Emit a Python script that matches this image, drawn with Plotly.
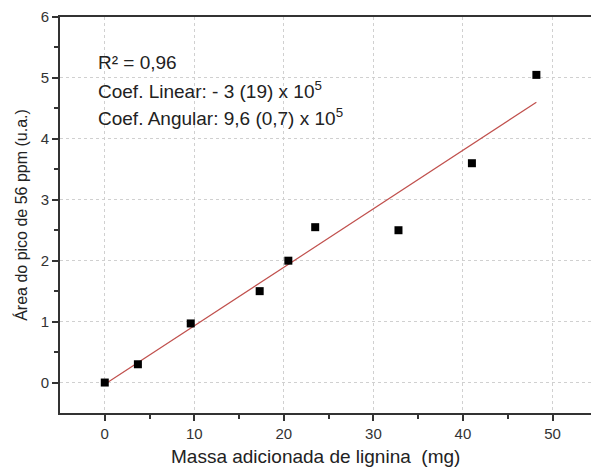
import plotly.graph_objects as go

massa = [0, 3.7, 9.6, 17.3, 20.5, 23.5, 32.8, 41.0, 48.2]
area = [0.0, 0.3, 0.97, 1.5, 2.0, 2.55, 2.5, 3.6, 5.05]
fit_x = [0, 48.2]
fit_y = [-0.03, 4.6]

fig = go.Figure()
fig.add_trace(go.Scatter(x=fit_x, y=fit_y, mode="lines",
                         line=dict(color="#c0504d", width=1.2), showlegend=False))
fig.add_trace(go.Scatter(x=massa, y=area, mode="markers",
                         marker=dict(symbol="square", size=8, color="black"), showlegend=False))

font = dict(family="Liberation Sans, Arial", size=19, color="#222")
texts = ["R² = 0,96",
         "Coef. Linear: - 3 (19) x 10<sup>5</sup>",
         "Coef. Angular: 9,6 (0,7) x 10<sup>5</sup>"]
ys = [5.25, 4.8, 4.36]
for t, y in zip(texts, ys):
    fig.add_annotation(x=-0.95, y=y, text=t, showarrow=False, xanchor="left",
                       yanchor="middle", font=font)

fig.add_annotation(x=23.5, xref="x", y=-0.11, yref="paper",
                   text="Massa adicionada de lignina  (mg)", showarrow=False,
                   xanchor="center", yanchor="middle",
                   font=dict(family="Liberation Sans, Arial", size=19, color="#222"))

fig.update_layout(
    width=591, height=470,
    margin=dict(l=60, r=0, t=17, b=57),
    plot_bgcolor="white", paper_bgcolor="white",
    font=dict(family="Liberation Sans, Arial", size=15, color="#333"),
)
fig.update_xaxes(range=[-5, 54.3], tickvals=[0, 10, 20, 30, 40, 50],
                 showline=True, linecolor="#333", linewidth=2, mirror=True,
                 ticks="outside", ticklen=6, tickwidth=2, tickcolor="#333",
                 minor=dict(tickvals=[5, 15, 25, 35, 45], ticks="outside", ticklen=4, tickcolor="#333", tickwidth=1.5),
                 showgrid=True, gridcolor="#d0d0d0", griddash="dot", gridwidth=1,
                 zeroline=False)
fig.update_yaxes(range=[-0.5, 6], tickvals=[0, 1, 2, 3, 4, 5, 6],
                 showline=True, linecolor="#333", linewidth=2, mirror=False,
                 ticks="outside", ticklen=6, tickwidth=2, tickcolor="#333",
                 minor=dict(tickvals=[0.5, 1.5, 2.5, 3.5, 4.5, 5.5], ticks="outside", ticklen=4, tickcolor="#333", tickwidth=1.5),
                 showgrid=True, gridcolor="#d0d0d0", griddash="dot", gridwidth=1,
                 zeroline=False,
                 title=dict(text="Área do pico de 56 ppm (u.a.)", font=dict(size=16, color="#222"), standoff=9))

fig.write_html("out.html")
